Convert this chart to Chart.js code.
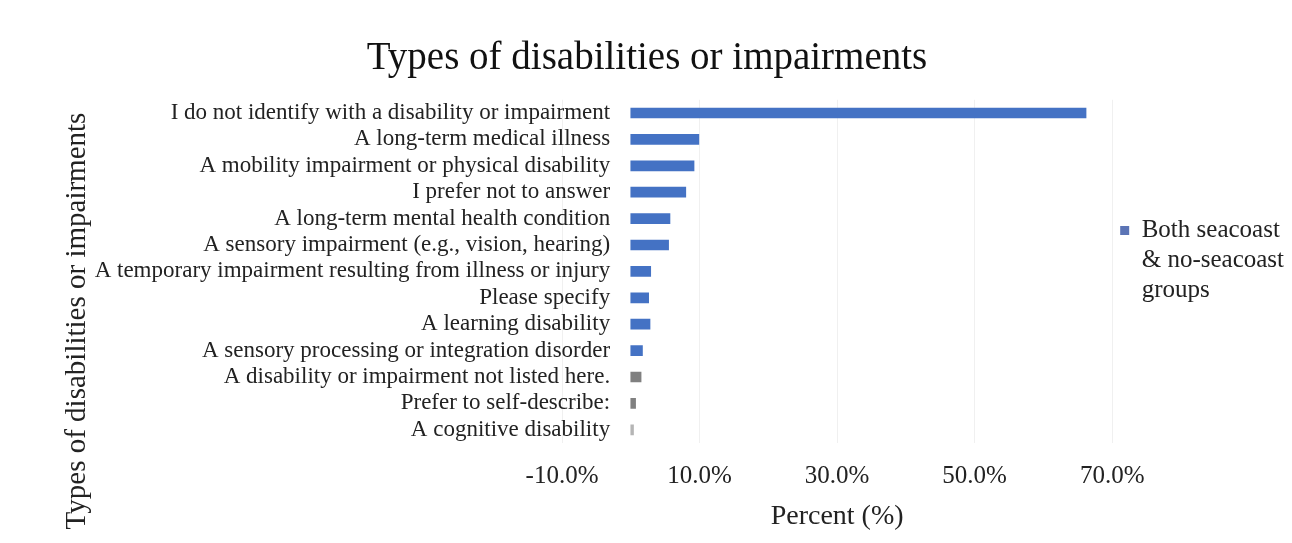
<!DOCTYPE html>
<html>
<head>
<meta charset="utf-8">
<script src="https://cdn.jsdelivr.net/npm/chart.js@4/dist/chart.umd.min.js"></script>
<style>
  html, body { margin: 0; padding: 0; background: #fff; }
  #wrap { width: 1292px; height: 543px; position: relative; }
</style>
</head>
<body>
<div id="wrap"><canvas id="chart"></canvas></div>
<script>
// === Data ===
const categories = [
  "I do not identify with a disability or impairment",
  "A long-term medical illness",
  "A mobility impairment or physical disability",
  "I prefer not to answer",
  "A long-term mental health condition",
  "A sensory impairment (e.g., vision, hearing)",
  "A temporary impairment resulting from illness or injury",
  "Please specify",
  "A learning disability",
  "A sensory processing or integration disorder",
  "A disability or impairment not listed here.",
  "Prefer to self-describe:",
  "A cognitive disability"
];
const percentValues = [66.2, 9.9, 9.2, 8.0, 5.7, 5.5, 2.9, 2.6, 2.8, 1.7, 1.5, 0.7, 0.4];
const xTickValues = [-10, 10, 30, 50, 70];
const seriesLabel = ["Both seacoast", "& no-seacoast", "groups"];

const SERIF = "'Liberation Serif', 'Times New Roman', serif";
const barColors = percentValues.map((v, i) => i < 10 ? '#4472c4' : (i < 12 ? '#808080' : '#b5b5b5'));

// === Y axis title, drawn at the far left ===
const yTitlePlugin = {
  id: 'yTitle',
  afterDraw(chart) {
    const ctx = chart.ctx;
    ctx.save();
    ctx.translate(77, 321);
    ctx.rotate(-Math.PI / 2);
    ctx.font = "29px " + SERIF;
    ctx.fillStyle = '#222';
    ctx.textAlign = 'center';
    ctx.textBaseline = 'middle';
    ctx.fillText("Types of disabilities or impairments", 0, 0);
    ctx.restore();
  }
};

new Chart(document.getElementById("chart"), {
  type: 'bar',
  data: {
    labels: categories,
    datasets: [{
      label: seriesLabel.join(' '),
      data: percentValues,
      backgroundColor: barColors,
      barThickness: 10
    }]
  },
  options: {
    indexAxis: 'y',
    responsive: true,
    maintainAspectRatio: false,
    animation: false,
    layout: { padding: { left: 0, right: -2, top: 0, bottom: 0 } },
    scales: {
      x: {
        min: -10,
        max: 70,
        afterBuildTicks: (axis) => { axis.ticks = xTickValues.map(v => ({ value: v })); },
        afterFit: (axis) => { axis.height = 100; },
        grid: { color: '#f0f0f0', drawTicks: false },
        border: { display: false },
        ticks: {
          padding: 18,
          maxRotation: 0,
          color: '#222',
          font: { family: SERIF, size: 25 },
          callback: (v) => v.toFixed(1) + '%'
        },
        title: {
          display: true,
          text: 'Percent (%)',
          color: '#222',
          font: { family: SERIF, size: 28 },
          padding: { top: 0, bottom: 10 }
        }
      },
      // empty spacer axis: reserves the room on the left where the labels sit
      yPad: {
        type: 'category',
        position: 'left',
        afterFit: (axis) => { axis.width = 562; },
        grid: { display: false, drawTicks: false },
        border: { display: false },
        ticks: { display: false }
      },
      y: {
        position: { x: -3 },
        grid: { display: false, drawTicks: false },
        border: { display: false },
        ticks: {
          autoSkip: false,
          color: '#222',
          font: { family: SERIF, size: 23 }
        }
      }
    },
    plugins: {
      title: {
        display: true,
        text: 'Types of disabilities or impairments',
        color: '#111',
        font: { family: SERIF, size: 39, weight: 'normal' },
        padding: { top: 35, bottom: 18 }
      },
      legend: {
        position: 'right',
        align: 'start',
        // blank legend title used as top spacing so the entry sits where it does in the picture
        title: { display: true, text: ' ', color: '#222', font: { size: 10 }, padding: { top: 198, bottom: 0 } },
        labels: {
          color: '#222',
          font: { family: SERIF, size: 25 },
          boxWidth: 9,
          boxHeight: 9,
          padding: 8,
          generateLabels: (chart) => [{
            text: seriesLabel,
            fillStyle: '#5b74b5',
            strokeStyle: '#5b74b5',
            fontColor: '#222',
            lineWidth: 0,
            hidden: false,
            datasetIndex: 0
          }]
        }
      },
      tooltip: { enabled: false }
    }
  },
  plugins: [yTitlePlugin]
});
</script>
</body>
</html>
